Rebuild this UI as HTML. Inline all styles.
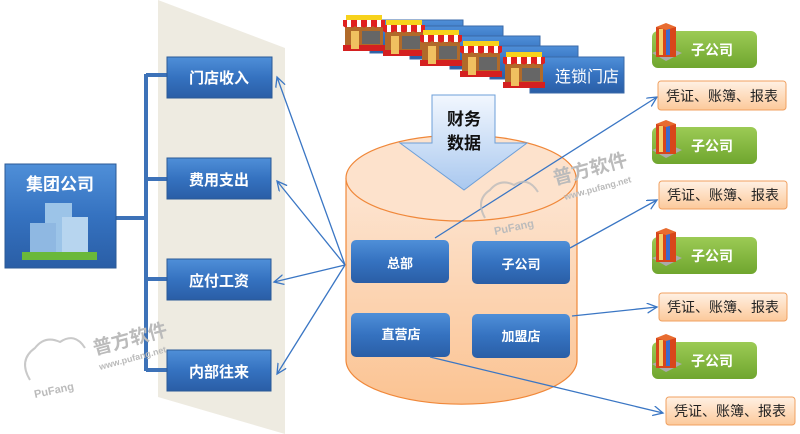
<!DOCTYPE html>
<html><head><meta charset="utf-8"><style>
html,body{margin:0;padding:0;background:#fff;width:800px;height:434px;overflow:hidden}
svg text{font-family:"Liberation Sans","Noto Sans CJK SC",sans-serif;font-weight:bold}
</style></head><body>
<svg width="800" height="434" viewBox="0 0 800 434" xmlns="http://www.w3.org/2000/svg">
<defs>
<linearGradient id="bl" x1="0" y1="0" x2="0" y2="1"><stop offset="0" stop-color="#4f8fd8"/><stop offset="0.5" stop-color="#3572c0"/><stop offset="1" stop-color="#2a5ea6"/></linearGradient>
<linearGradient id="gr" x1="0" y1="0" x2="0" y2="1"><stop offset="0" stop-color="#9ccb55"/><stop offset="1" stop-color="#6fa62e"/></linearGradient>
<linearGradient id="or" x1="0" y1="0" x2="0" y2="1"><stop offset="0" stop-color="#fff1e4"/><stop offset="1" stop-color="#fcc99a"/></linearGradient>
<linearGradient id="cy" x1="0" y1="0" x2="0" y2="1"><stop offset="0" stop-color="#fde6d4"/><stop offset="1" stop-color="#fbc392"/></linearGradient>
<linearGradient id="ar" x1="0" y1="0" x2="0" y2="1"><stop offset="0" stop-color="#f2f7fe"/><stop offset="1" stop-color="#a9c8ef"/></linearGradient>
<marker id="m" markerWidth="12" markerHeight="12" refX="10" refY="5" orient="auto" markerUnits="userSpaceOnUse"><path d="M0,0 L10,5 L0,10" fill="none" stroke="#3a76c4" stroke-width="1.3"/></marker>
<g id="store">
<rect x="2" y="10" width="38" height="26" fill="#b06a2a"/>
<rect x="0" y="30" width="42" height="6" fill="#d42020"/>
<rect x="8" y="16" width="8" height="18" fill="#f0c060"/>
<rect x="19" y="16" width="18" height="13" fill="#666"/>
<rect x="3" y="0" width="36" height="5" fill="#f7d21c"/>
<path d="M0,5 H42 V11 Q39,14 36,11 Q33,14 30,11 Q27,14 24,11 Q21,14 18,11 Q15,14 12,11 Q9,14 6,11 Q3,14 0,11Z" fill="#e02020"/>
<path d="M4,5 h4 v7 h-4z M14,5 h4 v7 h-4z M24,5 h4 v7 h-4z M34,5 h4 v7 h-4z" fill="#fff"/>
</g>
<g id="bld">
<path d="M0,30 L14,38 L30,30 L16,24Z" fill="#aaa"/>
<rect x="4" y="4" width="20" height="30" fill="#d8461a"/>
<rect x="7" y="6" width="4" height="26" fill="#f3d06a"/><rect x="14" y="6" width="4" height="26" fill="#3a6cd0"/>
<path d="M4,4 L14,0 L24,4 L14,7Z" fill="#e86c30"/>
</g>
</defs>

<!-- trapezoid panel -->
<polygon points="158,0 285,48 285,434 158,397" fill="#eeebe1"/>

<!-- left connector -->
<g stroke="#3d72b8" stroke-width="4" fill="none">
<path d="M116,218 H146"/><path d="M146,74 V371"/>
<path d="M146,75 H167 M146,179 H167 M146,279 H167 M146,370 H167"/>
</g>

<!-- 集团公司 -->
<rect x="5" y="164" width="111" height="104" fill="url(#bl)" stroke="#2b5a96"/>
<text x="60" y="190" fill="#fff" font-size="17" text-anchor="middle">集团公司</text>
<rect x="45" y="203" width="27" height="50" fill="#9cc4e8"/><rect x="62" y="217" width="26" height="36" fill="#b7d5ef"/><rect x="30" y="223" width="26" height="30" fill="#8fb8e2"/>
<rect x="22" y="252" width="75" height="8" fill="#6ab83a"/>

<!-- left boxes -->
<g fill="#fff" font-size="15" text-anchor="middle">
<rect x="167" y="57" width="105" height="41" fill="url(#bl)" stroke="#2b5a96"/><text x="219" y="83">门店收入</text>
<rect x="167" y="158" width="104" height="41" fill="url(#bl)" stroke="#2b5a96"/><text x="219" y="185">费用支出</text>
<rect x="167" y="259" width="104" height="41" fill="url(#bl)" stroke="#2b5a96"/><text x="219" y="286">应付工资</text>
<rect x="167" y="350" width="104" height="41" fill="url(#bl)" stroke="#2b5a96"/><text x="219" y="377">内部往来</text>
</g>

<!-- arrows to left -->
<g stroke="#3a76c4" stroke-width="1.3" fill="none" marker-end="url(#m)">
<path d="M345,265 L277,77"/><path d="M345,265 L277,181"/><path d="M345,265 L274,282"/><path d="M345,265 L277,374"/>
</g>

<!-- stores -->
<g fill="url(#bl)" stroke="#3a6aa8">
<rect x="370" y="20" width="93" height="33"/><rect x="410" y="26" width="93" height="33"/><rect x="450" y="36" width="90" height="33"/><rect x="490" y="46" width="88" height="33"/><rect x="530" y="57" width="94" height="36"/>
</g>
<text x="587" y="82" fill="#fff" font-size="16" font-weight="normal" text-anchor="middle" style="font-weight:normal">连锁门店</text>
<use href="#store" x="343" y="15"/><use href="#store" x="383" y="20"/><use href="#store" x="420" y="30"/><use href="#store" x="460" y="41"/><use href="#store" x="503" y="52"/>

<!-- cylinder -->
<path d="M346,178 V360 A115,44 0 0 0 577,360 V178" fill="url(#cy)" stroke="#f0883a" stroke-width="1.2"/>
<ellipse cx="461" cy="178" rx="115" ry="43" fill="#fde2cc" stroke="#f0883a" stroke-width="1.2"/>

<!-- 财务数据 arrow -->
<path d="M432,95 H495 V143 H527 L464,190 L400,143 H432Z" fill="url(#ar)" stroke="#6d9fd8"/>
<text x="464" y="125" font-size="17" fill="#111" text-anchor="middle">财务</text>
<text x="464" y="149" font-size="17" fill="#111" text-anchor="middle">数据</text>

<!-- cylinder boxes -->
<g fill="#fff" font-size="13" text-anchor="middle">
<rect x="351" y="240" width="98" height="43" rx="5" fill="url(#bl)"/><text x="400" y="268">总部</text>
<rect x="472" y="241" width="98" height="43" rx="5" fill="url(#bl)"/><text x="521" y="269">子公司</text>
<rect x="351" y="313" width="99" height="44" rx="5" fill="url(#bl)"/><text x="401" y="339">直营店</text>
<rect x="472" y="314" width="98" height="44" rx="5" fill="url(#bl)"/><text x="521" y="341">加盟店</text>
</g>

<!-- right arrows -->
<g stroke="#3a76c4" stroke-width="1.3" fill="none" marker-end="url(#m)">
<path d="M435,238 L657,97"/><path d="M570,248 L657,200"/><path d="M572,316 L657,307"/><path d="M430,357 L663,413"/>
</g>

<!-- right boxes -->
<g font-size="14" text-anchor="middle">
<rect x="652" y="31" width="105" height="37" rx="6" fill="url(#gr)"/><text x="712" y="55" fill="#fff">子公司</text>
<rect x="652" y="127" width="105" height="37" rx="6" fill="url(#gr)"/><text x="712" y="151" fill="#fff">子公司</text>
<rect x="652" y="237" width="105" height="37" rx="6" fill="url(#gr)"/><text x="712" y="261" fill="#fff">子公司</text>
<rect x="652" y="342" width="105" height="37" rx="6" fill="url(#gr)"/><text x="712" y="366" fill="#fff">子公司</text>
<g font-weight="normal" style="font-weight:normal">
<rect x="658" y="81" width="128" height="29" rx="3" fill="url(#or)" stroke="#f0a060"/><text x="722" y="101" fill="#222" style="font-weight:normal">凭证、账簿、报表</text>
<rect x="659" y="181" width="128" height="28" rx="3" fill="url(#or)" stroke="#f0a060"/><text x="723" y="200" fill="#222" style="font-weight:normal">凭证、账簿、报表</text>
<rect x="659" y="293" width="128" height="28" rx="3" fill="url(#or)" stroke="#f0a060"/><text x="723" y="312" fill="#222" style="font-weight:normal">凭证、账簿、报表</text>
<rect x="666" y="397" width="129" height="28" rx="3" fill="url(#or)" stroke="#f0a060"/><text x="730" y="416" fill="#222" style="font-weight:normal">凭证、账簿、报表</text>
</g>
</g>
<use href="#bld" x="652" y="23"/><use href="#bld" x="652" y="120"/><use href="#bld" x="652" y="228"/><use href="#bld" x="652" y="334"/>

<!-- watermarks -->
<g fill="none" stroke="#bbb" stroke-width="2" opacity="0.8">
<path d="M30,380 Q18,360 35,348 Q45,335 60,342 Q75,332 85,348"/>
<path d="M485,218 Q475,200 490,190 Q500,178 514,185 Q528,176 538,192"/>
</g>
<text x="95" y="355" font-size="19" fill="#bbb" transform="rotate(-15 95 355)">普方软件</text>
<text x="100" y="370" font-size="9" fill="#bbb" font-weight="normal" transform="rotate(-15 100 370)">www.pufang.net</text>
<text x="35" y="398" font-size="11" fill="#bbb" transform="rotate(-12 35 398)">PuFang</text>
<text x="555" y="185" font-size="19" fill="#bbb" transform="rotate(-15 555 185)">普方软件</text>
<text x="565" y="200" font-size="9" fill="#bbb" font-weight="normal" transform="rotate(-15 565 200)">www.pufang.net</text>
<text x="495" y="235" font-size="11" fill="#bbb" transform="rotate(-12 495 235)">PuFang</text>
</svg>
</body></html>
